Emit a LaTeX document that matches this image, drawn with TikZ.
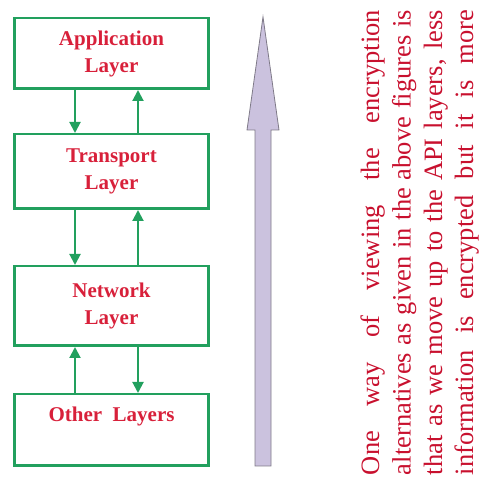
\documentclass[tikz,border=0pt]{standalone}
\usepackage{fontspec}
\setmainfont{Liberation Serif}
\usetikzlibrary{arrows.meta,positioning}
\definecolor{boxgreen}{HTML}{22A05E}
\definecolor{labelred}{HTML}{D8203A}
\definecolor{textred}{HTML}{C8102E}
\definecolor{lavender}{HTML}{CBC2DE}
\definecolor{arrowgray}{HTML}{7F7A88}
\tikzset{
    layerbox/.style={draw=boxgreen,line width=2.5pt,minimum width=194pt,
      inner sep=0pt,text=labelred,align=center,
      font=\fontsize{21}{27}\selectfont\bfseries},
    flowarrow/.style={-{Triangle[length=11pt,width=11pt]},draw=boxgreen,
      line width=2pt},
    linetext/.style={rotate=90,anchor=base,inner sep=0pt,text=textred,
      font=\fontsize{26.5}{32.5}\selectfont}
}
\begin{document}
\begin{tikzpicture}[x=1pt,y=1pt]
  \useasboundingbox (0,0) rectangle (479,479);
  % protocol stack
  \node[layerbox,minimum height=70.5pt] (app) at (111.5,425.5) {Application\\Layer};
  \node[layerbox,minimum height=74.5pt,below=43pt of app] (trans) {Transport\\Layer};
  \node[layerbox,minimum height=79.5pt,below=55pt of trans] (net) {Network\\Layer};
  \node[layerbox,minimum height=71.5pt,below=46pt of net] (other) {Other~~Layers\\[4pt]};
  \coordinate (L) at (75,0);
  \coordinate (R) at (138,0);
  \draw[flowarrow] (app.south -| L) -- (trans.north -| L);
  \draw[flowarrow] (trans.north -| R) -- (app.south -| R);
  \draw[flowarrow] (trans.south -| L) -- (net.north -| L);
  \draw[flowarrow] (net.north -| R) -- (trans.south -| R);
  \draw[flowarrow] (other.north -| L) -- (net.south -| L);
  \draw[flowarrow] (net.south -| R) -- (other.north -| R);
  % big upward arrow
  \draw[draw=arrowgray,fill=lavender,line width=0.8pt,line join=miter]
    (255,13) -- (255,349) -- (247,349) -- (263,462) -- (279,349)
    -- (271,349) -- (271,13) -- cycle;
  % rotated text
  \node[linetext] (line1) at (379,236.5) {\makebox[465pt][s]{One way of viewing the encryption}};
  \node[linetext] (line2) at (410.5,236.5) {\makebox[465pt][s]{alternatives as given in the above figures is}};
  \node[linetext] (line3) at (442,236.5) {\makebox[465pt][s]{that as we move up to the API layers, less}};
  \node[linetext] (line4) at (473,236.5) {\makebox[465pt][s]{information is encrypted but it is more}};
\end{tikzpicture}
\end{document}
